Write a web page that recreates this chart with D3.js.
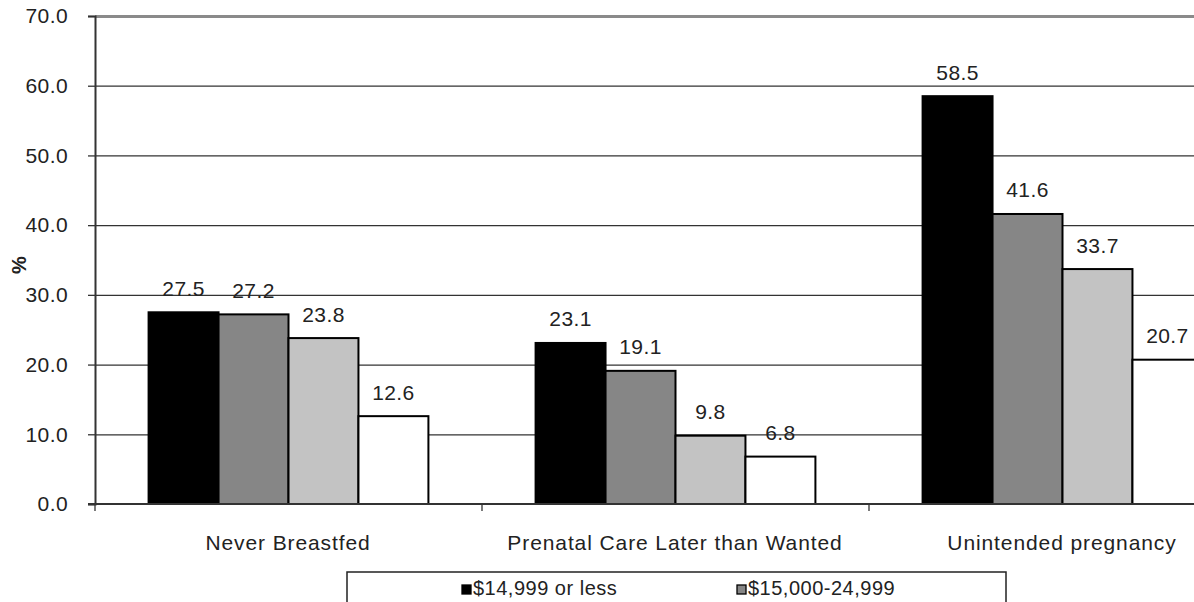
<!DOCTYPE html>
<html>
<head>
<meta charset="utf-8">
<script src="https://cdn.jsdelivr.net/npm/d3@7"></script>
<style>
  body { margin: 0; background: #fff; overflow: hidden; }
  text { font-family: "Liberation Sans", Arial, sans-serif; fill: #222; }
</style>
</head>
<body>
<div id="chart"></div>
<script>
//data
const categories = ['Never Breastfed', 'Prenatal Care Later than Wanted', 'Unintended pregnancy']
const seriesNames = ['$14,999 or less', '$15,000-24,999', '$25,000-49,999', '$50,000 or more']
const lowest = [27.5, 23.1, 58.5]
const second = [27.2, 19.1, 41.6]
const third = [23.8, 9.8, 33.7]
const highest = [12.6, 6.8, 20.7]
const yTicks = [0, 10, 20, 30, 40, 50, 60, 70]

const seriesValues = [lowest, second, third, highest]
const colors = ['#000000', '#868686', '#c3c3c3', '#ffffff']

//dimensions
let dimensions = {
  width: 1194,
  height: 602,
  left: 95,
  right: 1256,
  top: 16,
  bottom: 504,
}

const svg = d3.select('#chart')
  .append('svg')
  .attr('width', dimensions.width)
  .attr('height', dimensions.height)

//scales
const x0 = d3.scaleBand()
  .domain(categories)
  .range([dimensions.left, dimensions.right])

const x1 = d3.scaleBand()
  .domain(seriesNames)
  .range([0, x0.bandwidth()])
  .paddingOuter(0.766)

const y = d3.scaleLinear()
  .domain([0, 70])
  .range([dimensions.bottom, dimensions.top])

//gridlines
svg.append('g')
  .selectAll('line')
  .data(yTicks.filter(d => d > 0 && d < 70))
  .join('line')
  .attr('x1', dimensions.left)
  .attr('x2', dimensions.right)
  .attr('y1', d => y(d) + 0.5)
  .attr('y2', d => y(d) + 0.5)
  .attr('stroke', '#333')
  .attr('stroke-width', 1.3)

//top border
svg.append('line')
  .attr('x1', dimensions.left)
  .attr('x2', dimensions.right)
  .attr('y1', y(70) + 0.5)
  .attr('y2', y(70) + 0.5)
  .attr('stroke', '#8a8a8a')
  .attr('stroke-width', 3)

//bars
const rows = categories.map((c, i) => ({
  category: c,
  values: seriesNames.map((s, j) => ({ series: s, value: seriesValues[j][i], color: colors[j] }))
}))

const groups = svg.append('g')
  .selectAll('g')
  .data(rows)
  .join('g')
  .attr('transform', d => `translate(${x0(d.category)},0)`)

groups.selectAll('rect')
  .data(d => d.values)
  .join('rect')
  .attr('x', d => x1(d.series))
  .attr('y', d => y(d.value))
  .attr('width', x1.bandwidth())
  .attr('height', d => y(0) - y(d.value))
  .attr('fill', d => d.color)
  .attr('stroke', '#000')
  .attr('stroke-width', 2)

groups.selectAll('text')
  .data(d => d.values)
  .join('text')
  .attr('x', d => x1(d.series) + x1.bandwidth() / 2)
  .attr('y', d => y(d.value) - 16.5)
  .attr('text-anchor', 'middle')
  .attr('font-size', 21)
  .attr('letter-spacing', 0.4)
  .text(d => d3.format('.1f')(d.value))

//y axis
const yAxis = svg.append('g')
  .attr('transform', `translate(${dimensions.left},0)`)
  .call(d3.axisLeft(y)
    .tickValues(yTicks)
    .tickSize(7)
    .tickPadding(20)
    .tickFormat(d3.format('.1f')))

yAxis.select('.domain').attr('stroke', '#333').attr('stroke-width', 2)
yAxis.selectAll('.tick line').attr('stroke', '#333').attr('stroke-width', 1.3)
yAxis.selectAll('.tick text')
  .attr('font-size', 21)
  .attr('letter-spacing', 0.4)
  .attr('fill', '#222')
  .attr('font-family', '"Liberation Sans", Arial, sans-serif')

//x axis
const xAxis = svg.append('g')
  .attr('transform', `translate(0,${dimensions.bottom})`)

xAxis.append('line')
  .attr('x1', dimensions.left - 7)
  .attr('x2', dimensions.right)
  .attr('stroke', '#333')
  .attr('stroke-width', 2)

xAxis.selectAll('.sep')
  .data(categories)
  .join('line')
  .attr('class', 'sep')
  .attr('x1', d => x0(d))
  .attr('x2', d => x0(d))
  .attr('y1', 0)
  .attr('y2', 7)
  .attr('stroke', '#333')
  .attr('stroke-width', 1.3)

xAxis.selectAll('text')
  .data(categories)
  .join('text')
  .attr('x', d => x0(d) + x0.bandwidth() / 2 - 0.5)
  .attr('y', 46)
  .attr('text-anchor', 'middle')
  .attr('font-size', 21)
  .attr('letter-spacing', 0.9)
  .text(d => d)

//y label
svg.append('text')
  .attr('transform', 'translate(26,265) rotate(-90)')
  .attr('text-anchor', 'middle')
  .attr('font-size', 20)
  .attr('font-weight', 'bold')
  .text('%')

//legend: only the first row is visible in the original
const legend = svg.append('g')
  .attr('transform', 'translate(347,572)')

legend.append('rect')
  .attr('width', 659)
  .attr('height', 70)
  .attr('fill', '#fff')
  .attr('stroke', '#222')
  .attr('stroke-width', 1.5)

const items = legend.selectAll('g')
  .data(seriesNames.slice(0, 2))
  .join('g')
  .attr('transform', (d, i) => `translate(${115 + i * 275},8)`)

items.append('rect')
  .attr('width', 9)
  .attr('height', 9)
  .attr('y', 5)
  .attr('fill', (d, i) => colors[i])
  .attr('stroke', '#000')
  .attr('stroke-width', 1.3)

items.append('text')
  .attr('x', 11)
  .attr('y', 15)
  .attr('font-size', 20)
  .attr('letter-spacing', 0.5)
  .text(d => d)
</script>
</body>
</html>
